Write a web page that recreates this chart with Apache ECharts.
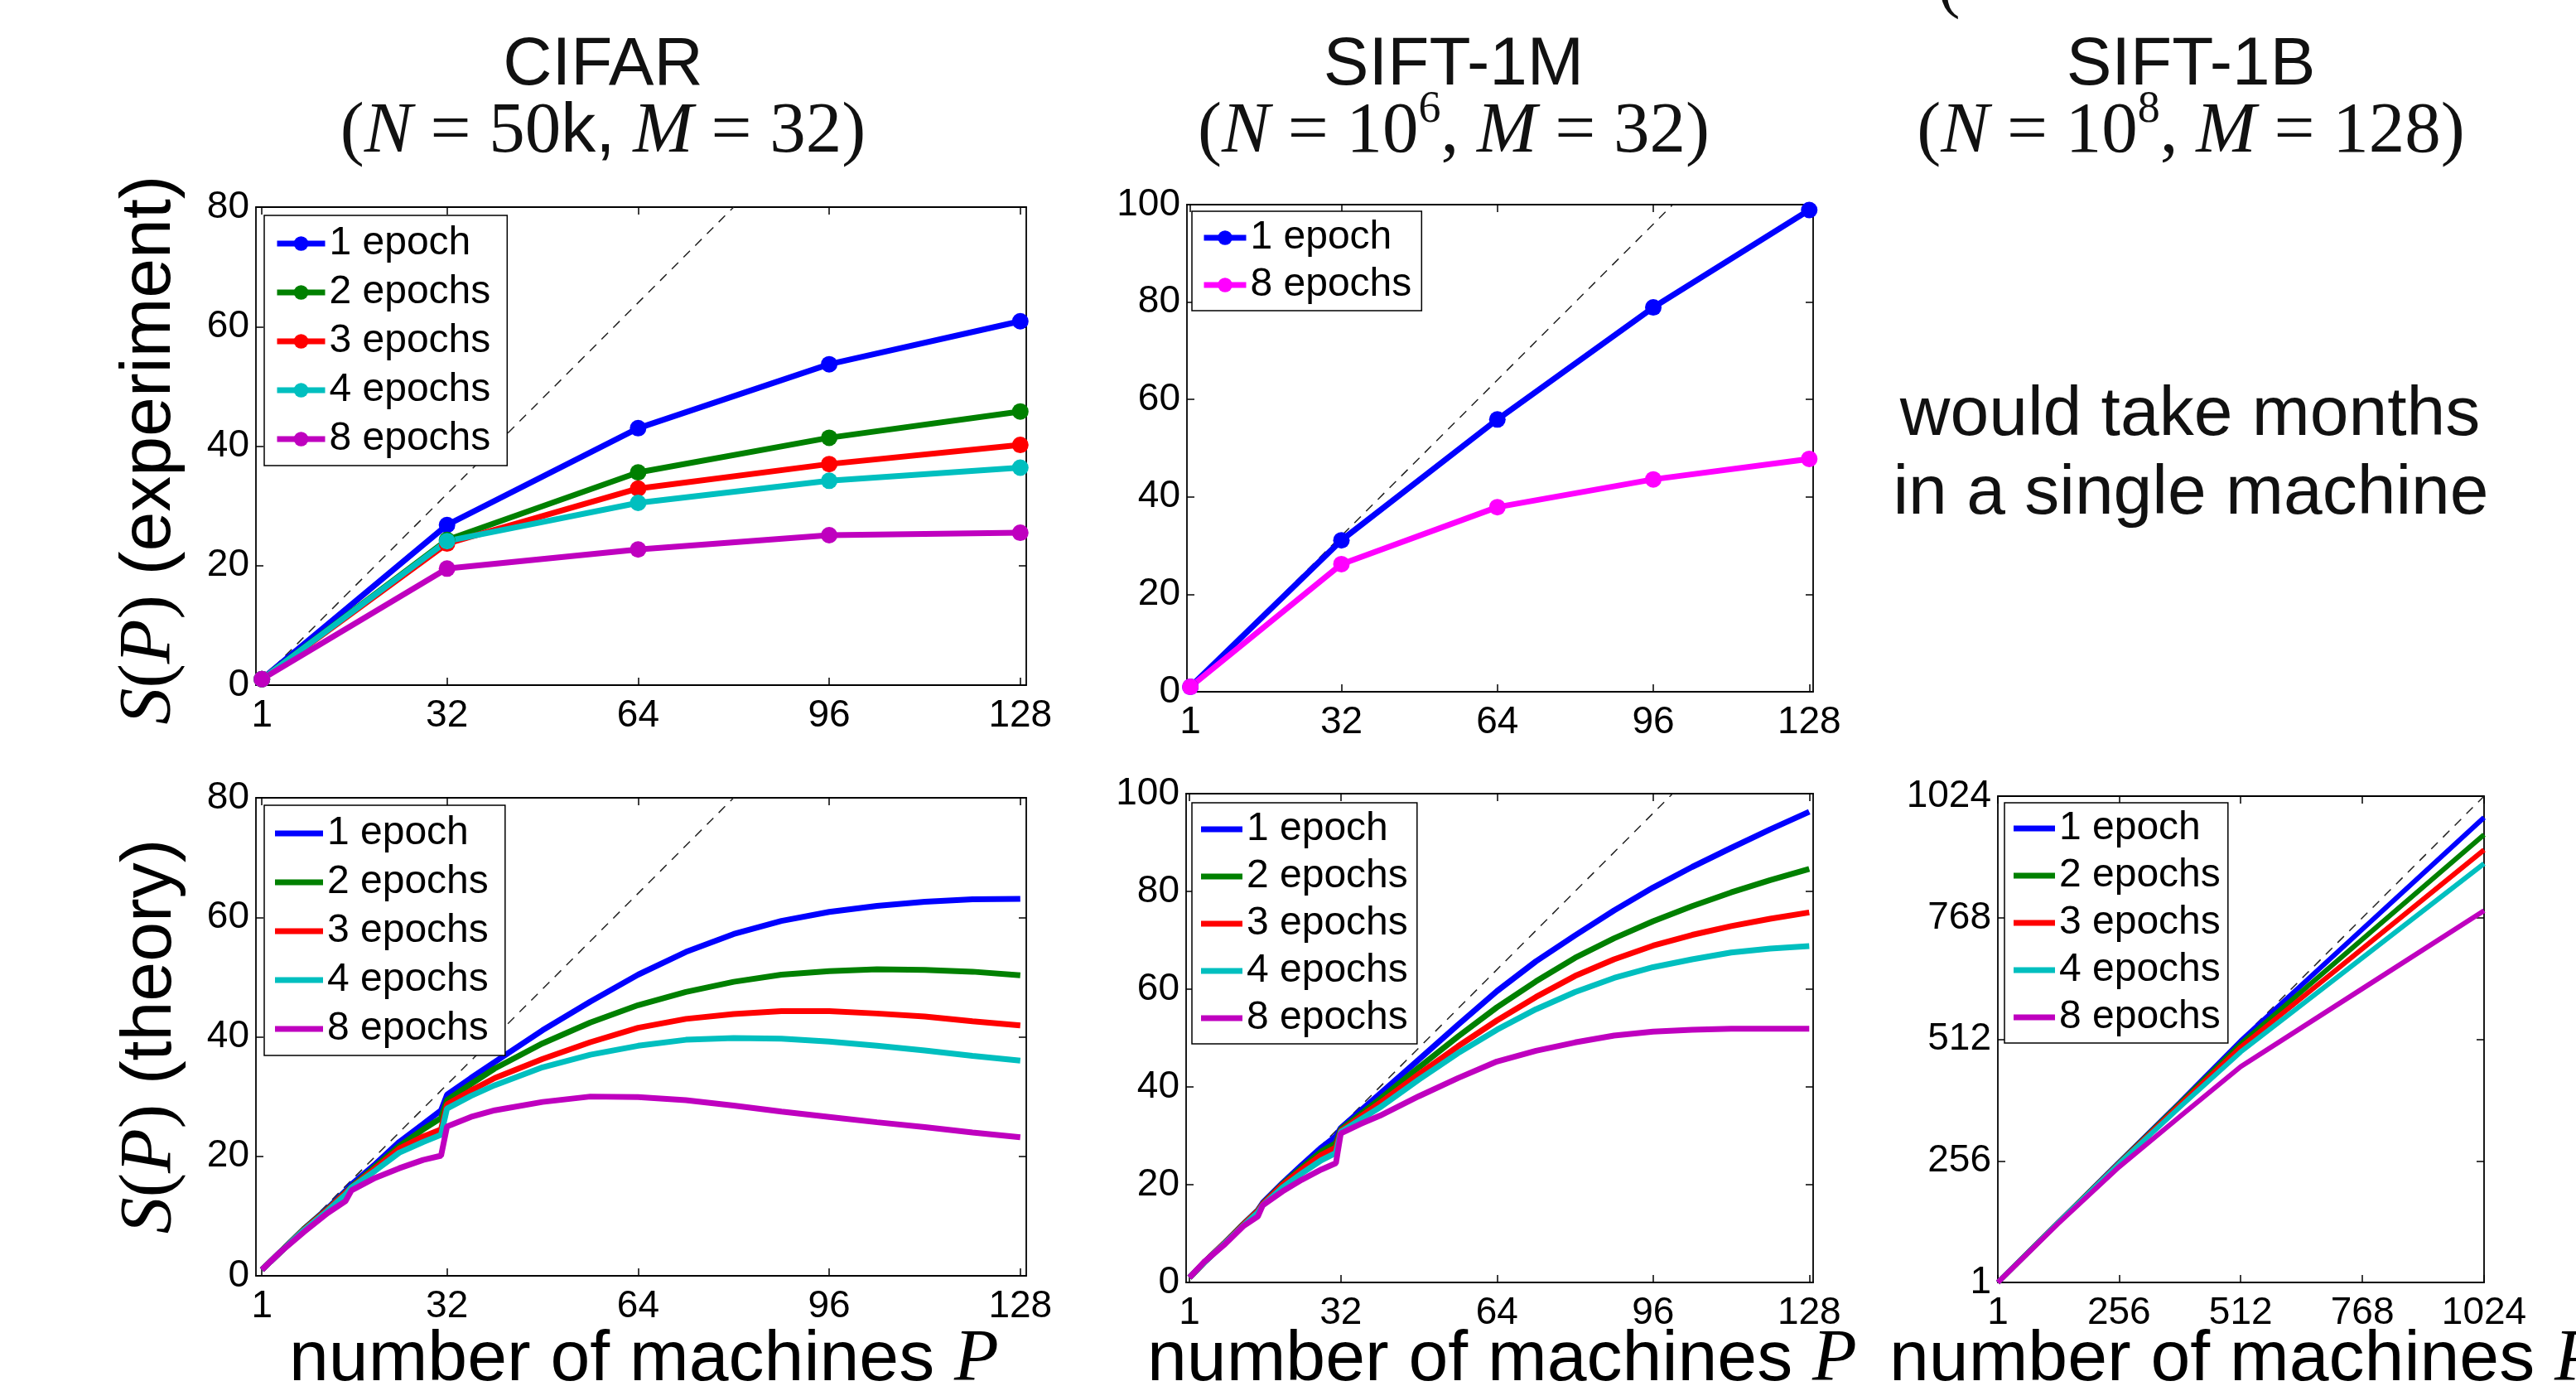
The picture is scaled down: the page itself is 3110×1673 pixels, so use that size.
<!DOCTYPE html>
<html lang="en">
<head>
<meta charset="UTF-8">
<title>speedup S(P)</title>
<script src="https://cdn.jsdelivr.net/npm/echarts@6/dist/echarts.min.js"></script>
<style>
  html, body { margin: 0; padding: 0; background: #fff; }
  #chart { width: 3110px; height: 1673px; }
</style>
</head>
<body>
<div id="chart"></div>
<script>
// number of machines P
const machinesExp = [1, 32, 64, 96, 128];
const machinesTheory = [1, 4, 8, 12, 15, 16, 20, 24, 28, 31, 32, 36, 40, 48, 56, 64, 72, 80, 88, 96, 104, 112, 120, 128];
const machinesBig = [1, 128, 256, 384, 512, 768, 1024];

// CIFAR, experiment
const cifarExp1 = [1, 26.8, 43.0, 53.7, 60.9];
const cifarExp2 = [1, 24.3, 35.6, 41.4, 45.8];
const cifarExp3 = [1, 23.7, 32.9, 37.0, 40.2];
const cifarExp4 = [1, 24.1, 30.5, 34.2, 36.4];
const cifarExp8 = [1, 19.5, 22.7, 25.1, 25.5];

// SIFT-1M, experiment
const siftExp1 = [1, 31.1, 55.9, 78.9, 98.9];
const siftExp8 = [1, 26.2, 37.9, 43.6, 47.8];

// CIFAR, theory
const cifarTh1 = [1, 3.9, 7.8, 11.3, 14.2, 15.3, 18.7, 22.4, 25.4, 27.7, 30.3, 33.1, 35.8, 41.1, 45.9, 50.4, 54.2, 57.2, 59.4, 60.9, 61.9, 62.6, 63.0, 63.1];
const cifarTh2 = [1, 3.9, 7.8, 11.2, 14.0, 14.9, 18.3, 21.7, 24.5, 26.4, 29.4, 32.1, 34.7, 38.9, 42.4, 45.3, 47.5, 49.2, 50.4, 51.0, 51.3, 51.2, 50.9, 50.3];
const cifarTh3 = [1, 3.9, 7.7, 11.1, 13.9, 14.8, 18.0, 21.3, 23.3, 24.5, 28.7, 31.0, 33.1, 36.3, 39.1, 41.5, 43.0, 43.8, 44.3, 44.3, 43.9, 43.4, 42.6, 41.9];
const cifarTh4 = [1, 3.9, 7.6, 10.9, 13.6, 14.8, 17.6, 20.6, 22.4, 23.6, 28.0, 30.1, 31.9, 34.9, 37.0, 38.5, 39.5, 39.8, 39.7, 39.2, 38.5, 37.7, 36.8, 36.0];
const cifarTh8 = [1, 3.9, 7.3, 10.5, 12.5, 14.3, 16.4, 18.0, 19.4, 20.1, 25.0, 26.6, 27.7, 29.1, 30.0, 29.9, 29.4, 28.5, 27.5, 26.6, 25.7, 24.9, 24.0, 23.2];

// SIFT-1M, theory
const siftTh1 = [1, 4.1, 7.9, 11.9, 14.8, 16.3, 20.3, 24.0, 27.6, 29.9, 31.6, 35.1, 38.6, 45.6, 52.7, 59.6, 65.7, 71.0, 76.1, 80.8, 85.0, 88.9, 92.7, 96.3];
const siftTh2 = [1, 4.1, 7.9, 11.9, 14.7, 16.1, 20.1, 23.5, 26.8, 28.5, 31.3, 34.4, 37.5, 44.0, 50.3, 56.3, 61.6, 66.4, 70.4, 73.9, 77.0, 79.8, 82.3, 84.6];
const siftTh3 = [1, 4.1, 7.9, 11.8, 14.6, 16.0, 19.9, 23.1, 26.1, 27.6, 31.0, 33.9, 36.7, 42.6, 48.3, 53.6, 58.4, 62.7, 66.1, 68.9, 71.1, 72.9, 74.4, 75.7];
const siftTh4 = [1, 4.1, 7.8, 11.6, 14.3, 15.8, 19.4, 22.3, 25.0, 26.5, 30.8, 33.3, 35.8, 41.5, 46.9, 51.7, 55.9, 59.4, 62.3, 64.5, 66.1, 67.5, 68.3, 68.8];
const siftTh8 = [1, 4.2, 7.6, 11.5, 13.5, 15.8, 18.6, 21.0, 23.1, 24.4, 30.5, 32.4, 34.1, 38.1, 41.8, 45.2, 47.4, 49.1, 50.5, 51.3, 51.7, 51.9, 51.9, 51.9];

// SIFT-1B, theory
const bigTh1 = [1, 127, 254, 380, 509, 744, 979];
const bigTh2 = [1, 127, 253, 378, 503, 723, 943];
const bigTh3 = [1, 127, 252, 375, 496, 703, 911];
const bigTh4 = [1, 127, 251, 370, 486, 684, 882];
const bigTh8 = [1, 125, 244, 350, 455, 619, 783];

// ideal speedup S(P) = P (dashed)
const idealCifar = [1, 80];
const idealSift = [1, 100];
const idealBig = [1, 1024];

// tick labels
const ticksP128 = [1, 32, 64, 96, 128];
const ticksP1024 = [1, 256, 512, 768, 1024];
const ticksS80 = [0, 20, 40, 60, 80];
const ticksS100 = [0, 20, 40, 60, 80, 100];

const epochLabels = ['1 epoch', '2 epochs', '3 epochs', '4 epochs', '8 epochs'];
const epochColors = ['#0000ff', '#008000', '#ff0000', '#00bfbf', '#bf00bf'];

const SANS = 'Liberation Sans';
const SERIF = 'Liberation Serif';

const chart = echarts.init(document.getElementById('chart'));

function pairs(xs, ys) {
  return xs.map((x, i) => [x, ys[i]]);
}

// one grid per panel
const panels = [
  { grid: { left: 309, top: 250, width: 930, height: 577 }, x: [0, 129], xTicks: ticksP128, y: [0, 80], yTicks: ticksS80 },
  { grid: { left: 1433, top: 247, width: 756, height: 588 }, x: [0.3, 128.8], xTicks: ticksP128, y: [0, 100], yTicks: ticksS100 },
  { grid: { left: 309, top: 963, width: 930, height: 577 }, x: [0, 129], xTicks: ticksP128, y: [0, 80], yTicks: ticksS80 },
  { grid: { left: 1432, top: 958, width: 757, height: 590 }, x: [0.3, 128.8], xTicks: ticksP128, y: [0, 100], yTicks: ticksS100 },
  { grid: { left: 2412, top: 961, width: 587, height: 587 }, x: [1, 1024], xTicks: ticksP1024, y: [1, 1024], yTicks: ticksP1024 }
];

const boxLine = { show: true, onZero: false, lineStyle: { color: '#000', width: 1.8 } };
const grids = [], xAxes = [], yAxes = [];
panels.forEach((p, i) => {
  grids.push(p.grid);
  ['bottom', 'top'].forEach((pos, k) => {
    xAxes.push({
      type: 'value', gridIndex: i, position: pos, min: p.x[0], max: p.x[1],
      axisLine: boxLine,
      axisTick: { show: true, inside: true, length: 9, customValues: p.xTicks, lineStyle: { color: '#000', width: 1.5 } },
      axisLabel: { show: k === 0, customValues: p.xTicks, margin: 14, fontSize: 46, fontFamily: SANS, color: '#000', formatter: v => String(v) },
      splitLine: { show: false }
    });
  });
  ['left', 'right'].forEach((pos, k) => {
    yAxes.push({
      type: 'value', gridIndex: i, position: pos, min: p.y[0], max: p.y[1],
      axisLine: boxLine,
      axisTick: { show: true, inside: true, length: 9, customValues: p.yTicks, lineStyle: { color: '#000', width: 1.5 } },
      axisLabel: { show: k === 0, customValues: p.yTicks, margin: 8, fontSize: 46, fontFamily: SANS, color: '#000', formatter: v => String(v) },
      splitLine: { show: false }
    });
  });
});

const series = [];
function addIdeal(g, ideal) {
  series.push({
    type: 'line', name: 'ideal' + g, xAxisIndex: 2 * g, yAxisIndex: 2 * g,
    data: pairs(ideal, ideal), symbol: 'none', z: 1,
    lineStyle: { color: '#222', width: 1.5, type: [11, 9] }
  });
}
function addCurve(g, id, label, xs, ys, color, markers, width) {
  series.push({
    type: 'line', name: id + ':' + label, xAxisIndex: 2 * g, yAxisIndex: 2 * g,
    data: pairs(xs, ys),
    symbol: markers ? 'circle' : 'none', symbolSize: 20,
    itemStyle: { color: color },
    lineStyle: { color: color, width: width },
    z: 2
  });
  return id + ':' + label;
}

addIdeal(0, idealCifar);
const legCifarExp = [cifarExp1, cifarExp2, cifarExp3, cifarExp4, cifarExp8].map((ys, k) =>
  addCurve(0, 'cifarExp', epochLabels[k], machinesExp, ys, epochColors[k], true, 7));

addIdeal(1, idealSift);
const legSiftExp = [
  addCurve(1, 'siftExp', epochLabels[0], machinesExp, siftExp1, '#0000ff', true, 7),
  addCurve(1, 'siftExp', epochLabels[4], machinesExp, siftExp8, '#ff00ff', true, 7)
];

addIdeal(2, idealCifar);
const legCifarTh = [cifarTh1, cifarTh2, cifarTh3, cifarTh4, cifarTh8].map((ys, k) =>
  addCurve(2, 'cifarTh', epochLabels[k], machinesTheory, ys, epochColors[k], false, 7));

addIdeal(3, idealSift);
const legSiftTh = [siftTh1, siftTh2, siftTh3, siftTh4, siftTh8].map((ys, k) =>
  addCurve(3, 'siftTh', epochLabels[k], machinesTheory, ys, epochColors[k], false, 7));

addIdeal(4, idealBig);
const legBigTh = [bigTh1, bigTh2, bigTh3, bigTh4, bigTh8].map((ys, k) =>
  addCurve(4, 'bigTh', epochLabels[k], machinesBig, ys, epochColors[k], false, 6));

function legend(names, left, top, padding, gap, iw, ih, icon) {
  const l = {
    data: names, left: left, top: top, orient: 'vertical', padding: padding,
    itemGap: gap, itemWidth: iw, itemHeight: ih,
    backgroundColor: '#fff', borderColor: '#000', borderWidth: 1.5, borderRadius: 0,
    selectedMode: false,
    lineStyle: { width: 7 },
    textStyle: { fontSize: 48, fontFamily: SANS, color: '#000', lineHeight: 50 },
    formatter: n => n.split(':')[1]
  };
  if (icon) l.icon = icon;
  return l;
}

// text pieces
function txt(x, y, text, extra) {
  return {
    type: 'text', x: x, y: y, silent: true,
    style: Object.assign({
      text: text, fill: '#111', fontSize: 82, fontFamily: SANS,
      align: 'center', verticalAlign: 'middle', textAlign: 'center', textVerticalAlign: 'middle'
    }, extra || {})
  };
}
const mathRich = {
  r: { fontFamily: SERIF, fontSize: 87, fill: '#111' },
  i: { fontFamily: SERIF, fontStyle: 'italic', fontSize: 87, fill: '#111' },
  k: { fontFamily: SANS, fontSize: 84, fill: '#111' },
  s: { fontFamily: SERIF, fontSize: 54, fill: '#111', padding: [0, 0, 54, 0] }
};
const axisRich = {
  i: { fontFamily: SERIF, fontStyle: 'italic', fontSize: 88, fill: '#000' },
  r: { fontFamily: SERIF, fontSize: 88, fill: '#000' },
  t: { fontFamily: SANS, fontSize: 86, fill: '#000' },
  n: { fontFamily: SANS, fontSize: 86, fill: '#000' }
};

const graphics = [
  txt(728, 79, 'CIFAR'),
  txt(1755, 79, 'SIFT-1M'),
  txt(2645, 79, 'SIFT-1B'),
  txt(728, 160, '{r|(}{i|N}{r| = 50}{k|k,}{r| }{i|M}{r| = 32)}', { rich: mathRich }),
  txt(1755, 160, '{r|(}{i|N}{r| = 10}{s|6}{r|, }{i|M}{r| = 32)}', { rich: mathRich }),
  txt(2645, 160, '{r|(}{i|N}{r| = 10}{s|8}{r|, }{i|M}{r| = 128)}', { rich: mathRich }),
  txt(2353, -15, '(', { fontFamily: SERIF, fontSize: 80 }),
  txt(2644, 502, 'would take months', { fontSize: 84 }),
  txt(2645, 597, 'in a single machine', { fontSize: 84 }),
  Object.assign(txt(181, 543, '{i|S}{r|(}{i|P}{r|)}{t| (experiment)}', { rich: axisRich }), { rotation: Math.PI / 2 }),
  Object.assign(txt(182, 1251, '{i|S}{r|(}{i|P}{r|)}{t| (theory)}', { rich: axisRich }), { rotation: Math.PI / 2 }),
  txt(349, 1642, '{n|number of machines }{i|P}', { rich: axisRich, align: 'left', textAlign: 'left' }),
  txt(1385, 1642, '{n|number of machines }{i|P}', { rich: axisRich, align: 'left', textAlign: 'left' }),
  txt(2281, 1642, '{n|number of machines }{i|P}', { rich: axisRich, align: 'left', textAlign: 'left' })
];

chart.setOption({
  animation: false,
  backgroundColor: '#fff',
  grid: grids,
  xAxis: xAxes,
  yAxis: yAxes,
  legend: [
    legend(legCifarExp, 319, 260, [9, 20, 7, 12], 9, 58, 22),
    legend(legSiftExp, 1439, 255, [7, 12, 6, 11], 7, 51, 22),
    legend(legCifarTh, 319, 972, [9, 20, 7, 13], 9, 58, 7, 'rect'),
    legend(legSiftTh, 1439, 969, [7, 11, 6, 11], 7, 50, 7, 'rect'),
    legend(legBigTh, 2420, 969, [6, 9, 6, 11], 7, 50, 7, 'rect')
  ],
  series: series,
  graphic: graphics
});
</script>
</body>
</html>
